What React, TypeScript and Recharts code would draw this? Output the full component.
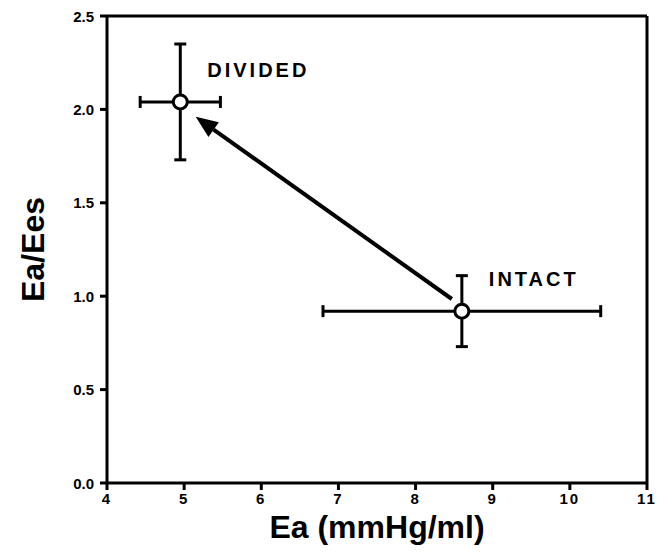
import React from 'react';
import {
    ScatterChart,
    Scatter,
    XAxis,
    YAxis,
    ErrorBar,
    ReferenceLine,
    LabelList,
} from 'recharts';

// group means
const groups = ['DIVIDED', 'INTACT'];
const eaMean = [4.95, 8.6];
const eaSD = [0.52, 1.8];
const ratioMean = [2.04, 0.92];
const ratioSD = [0.31, 0.19];

// arrow from intact towards divided (data coords)
const arrowFrom = { x: 8.47, y: 0.985 };
const arrowTo = { x: 5.15, y: 1.96 };

const xTicks = [4, 5, 6, 7, 8, 9, 10, 11];
const yTicks = [0, 0.5, 1, 1.5, 2, 2.5];

const data = groups.map((name, i) => ({
    name,
    x: eaMean[i],
    y: ratioMean[i],
    ex: eaSD[i],
    ey: ratioSD[i],
}));

const FONT = 'Liberation Sans, Arial, Helvetica, sans-serif';
const NARROW = '"Liberation Sans Narrow", "Liberation Sans", Arial, sans-serif';

const OpenDot = (props: any) => {
    const { cx, cy } = props;
    if (cx == null || cy == null) return null;
    return <circle cx={cx} cy={cy} r={7} fill="#fff" stroke="#000" strokeWidth={3} />;
};

const Arrow = (props: any) => {
    const { x1, y1, x2, y2 } = props;
    if (x1 == null) return null;
    const ang = Math.atan2(y2 - y1, x2 - x1);
    const len = 22;
    const half = 9;
    const bx = x2 - len * Math.cos(ang);
    const by = y2 - len * Math.sin(ang);
    const px = -Math.sin(ang) * half;
    const py = Math.cos(ang) * half;
    return (
        <g>
            <line x1={x1} y1={y1} x2={bx} y2={by} stroke="#000" strokeWidth={4} />
            <polygon
                points={`${x2},${y2} ${bx + px},${by + py} ${bx - px},${by - py}`}
                fill="#000"
            />
        </g>
    );
};

const GroupLabel = (props: any) => {
    const { x, y, width, height, value } = props;
    const cx = x + width / 2;
    const cy = y + height / 2;
    return (
        <text
            x={cx + 27}
            y={cy - 32}
            dominantBaseline="central"
            fontFamily={FONT}
            fontWeight="bold"
            fontSize={20}
            letterSpacing={3}
            fill="#000"
        >
            {value}
        </text>
    );
};

const XTick = (props: any) => {
    const { x, y, payload } = props;
    return (
        <text x={x} y={y + 12} textAnchor="middle" fontFamily={FONT} fontWeight="bold"
            fontSize={15} letterSpacing={2} fill="#000">
            {payload.value}
        </text>
    );
};

const YTick = (props: any) => {
    const { x, y, payload } = props;
    return (
        <text x={x - 4} y={y} textAnchor="end" dominantBaseline="central" fontFamily={FONT}
            fontWeight="bold" fontSize={15} fill="#000">
            {Number(payload.value).toFixed(1)}
        </text>
    );
};

const App = () => {
    return (
        <div style={{ position: 'absolute', left: 0, top: 0, background: '#fff' }}>
            <ScatterChart width={659} height={554} margin={{ top: 16, right: 12, bottom: 11, left: 47 }}>
                <XAxis
                    type="number"
                    dataKey="x"
                    domain={[4, 11]}
                    ticks={xTicks}
                    allowDataOverflow
                    stroke="#000"
                    strokeWidth={3}
                    tickSize={7}
                    tick={<XTick />}
                    height={60}
                    label={{
                        value: 'Ea  (mmHg/ml)',
                        position: 'insideBottom',
                        offset: 5,
                        style: { fontFamily: NARROW, fontWeight: 'bold', fontSize: 32, fill: '#000' },
                    }}
                />
                <YAxis
                    type="number"
                    dataKey="y"
                    domain={[0, 2.5]}
                    ticks={yTicks}
                    allowDataOverflow
                    stroke="#000"
                    strokeWidth={3}
                    tickSize={7}
                    tick={<YTick />}
                    width={60}
                    label={{
                        value: 'Ea/Ees',
                        angle: -90,
                        position: 'insideLeft',
                        offset: -14,
                        style: { fontFamily: NARROW, fontWeight: 'bold', fontSize: 32, fill: '#000', textAnchor: 'middle' },
                    }}
                />
                <ReferenceLine y={2.5} stroke="#000" strokeWidth={3} />
                <ReferenceLine x={11} stroke="#000" strokeWidth={3} />
                <ReferenceLine segment={[arrowFrom, arrowTo]} shape={(p: any) => <Arrow {...p} />} />
                <Scatter data={data} shape={<OpenDot />} isAnimationActive={false}>
                    <ErrorBar dataKey="ex" direction="x" width={6} stroke="#000" strokeWidth={3} />
                    <ErrorBar dataKey="ey" direction="y" width={6} stroke="#000" strokeWidth={3} />
                    <LabelList dataKey="name" content={<GroupLabel />} />
                </Scatter>
            </ScatterChart>
        </div>
    );
};

export default App;
